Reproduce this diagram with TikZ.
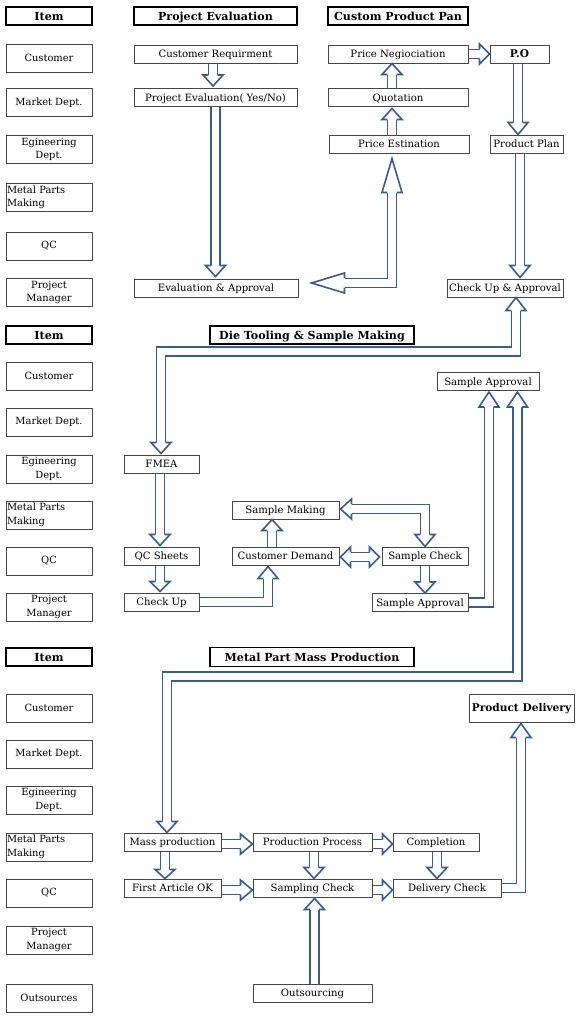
\documentclass[tikz,border=0pt]{standalone}
\usepackage{fontspec}
\setmainfont{DejaVu Serif}
\usetikzlibrary{calc}

\definecolor{arrowblue}{RGB}{56,93,138}
\definecolor{boxgray}{RGB}{70,70,70}

\newcommand{\shaftw}{4.6}
\newcommand{\headw}{10}
% block arrow head, tip at #2, pointing at angle #3
\newcommand{\bhead}[3][11]{%
  \filldraw[headfill, shift={#2}, rotate=#3] (-#1,-\shaftw) -- (-#1,-\headw) -- (0,0) -- (-#1,\headw) -- (-#1,\shaftw);}

\tikzset{
  pipe/.style={draw=arrowblue, line width=1.6pt, double=white, double distance=7.6pt},
  headfill/.style={draw=arrowblue, fill=white, line width=1.6pt},
  item/.style={draw=boxgray, line width=1pt, minimum width=86pt, minimum height=28pt, inner sep=0pt, align=center, font=\fontsize{9.9}{13.5}\selectfont},
  itemleft/.style={item, text width=84pt, align=left},
  hdr/.style={draw=black, line width=1.8pt, minimum height=18pt, inner sep=0pt, text height=8pt, text depth=0pt, font=\fontsize{11.1}{12}\selectfont\bfseries},
  proc/.style={draw=boxgray, line width=1pt, minimum height=18pt, inner sep=0pt, text height=7.3pt, text depth=0pt, font=\fontsize{10.1}{12}\selectfont}
}

\begin{document}
\begin{tikzpicture}[x=1pt, y=-1pt]
\useasboundingbox (0,0) rectangle (576,1018);

% Item column, first part
\node[hdr, minimum width=86pt] (item1) at (49,16) {Item};
\node[item] (cust1) at (49,58) {Customer};
\node[item] (mkt1) at (49,102.5) {Market Dept.};
\node[item] (eng1) at (49,149.5) {Egineering\\Dept.};
\node[itemleft] (metal1) at (49,197.5) {Metal Parts\\Making};
\node[item] (qc1) at (49,246) {QC};
\node[item] (pm1) at (49,292.5) {Project\\Manager};

% Item column, second part
\node[hdr, minimum width=86pt] (item2) at (49,335) {Item};
\node[item] (cust2) at (49,376) {Customer};
\node[item] (mkt2) at (49,422) {Market Dept.};
\node[item] (eng2) at (49,469) {Egineering\\Dept.};
\node[itemleft] (metal2) at (49,515) {Metal Parts\\Making};
\node[item] (qc2) at (49,561) {QC};
\node[item] (pm2) at (49,607) {Project\\Manager};

% Item column, third part
\node[hdr, minimum width=86pt] (item3) at (49,657) {Item};
\node[item] (cust3) at (49,708) {Customer};
\node[item] (mkt3) at (49,754) {Market Dept.};
\node[item] (eng3) at (49,800) {Egineering\\Dept.};
\node[itemleft] (metal3) at (49,847) {Metal Parts\\Making};
\node[item] (qc3) at (49,893) {QC};
\node[item] (pm3) at (49,940) {Project\\Manager};
\node[item] (out3) at (49,998) {Outsources};

% Project evaluation and product plan
\node[hdr, minimum width=163pt] (evalhdr) at (215.5,16) {Project Evaluation};
\node[hdr, minimum width=140pt] (planhdr) at (398,16) {Custom Product Pan};
\node[proc, minimum width=163pt] (custreq) at (215.5,54) {Customer Requirment};
\node[proc, minimum width=163pt] (projeval) at (215.5,97.5) {Project Evaluation( Yes/No)};
\node[proc, minimum width=164pt] (evalapp) at (216,288) {Evaluation \& Approval};
\node[proc, minimum width=140pt] (priceneg) at (398,54) {Price Negiociation};
\node[proc, minimum width=59pt, font=\fontsize{10.6}{12}\selectfont\bfseries] (po) at (519.5,54) {P.O};
\node[proc, minimum width=140pt] (quot) at (398,97.5) {Quotation};
\node[proc, minimum width=140pt] (priceest) at (399,144) {Price Estination};
\node[proc, minimum width=73pt] (plan) at (526.5,144) {Product Plan};
\node[proc, minimum width=116pt] (checkapp) at (505,288) {Check Up \& Approval};

% Die tooling and sample making
\node[hdr, minimum width=204pt] (toolhdr) at (312,335) {Die Tooling \& Sample Making};
\node[proc, minimum width=75pt] (fmea) at (161.5,464) {FMEA};
\node[proc, minimum width=75pt] (qcsheet) at (161.5,556) {QC Sheets};
\node[proc, minimum width=75pt] (checkup) at (161.5,602) {Check Up};
\node[proc, minimum width=107pt] (sampmake) at (285.5,510) {Sample Making};
\node[proc, minimum width=107pt] (custdem) at (285.5,556) {Customer Demand};
\node[proc, minimum width=86pt] (sampcheck) at (425,556) {Sample Check};
\node[proc, minimum width=96pt] (sampappb) at (420,602.5) {Sample Approval};
\node[proc, minimum width=102pt] (sampappt) at (488,381.5) {Sample Approval};

% Mass production
\node[hdr, minimum width=204pt, minimum height=19pt] (masshdr) at (312,657) {Metal Part Mass Production};
\node[proc, minimum width=97pt] (massprod) at (172.5,842) {Mass production};
\node[proc, minimum width=119pt] (prodproc) at (312.5,842) {Production Process};
\node[proc, minimum width=86pt] (compl) at (436,842) {Completion};
\node[proc, minimum width=97pt] (firstart) at (172.5,888) {First Article OK};
\node[proc, minimum width=119pt] (sampling) at (312.5,888) {Sampling Check};
\node[proc, minimum width=108pt] (delcheck) at (447,888) {Delivery Check};
\node[proc, minimum width=119pt] (outsrc) at (312.5,993) {Outsourcing};
\node[proc, minimum width=105pt, minimum height=28pt, font=\fontsize{10.6}{12}\selectfont\bfseries] (delivery) at (521.5,708) {Product Delivery};

% Arrows, first part
\draw[pipe, shorten >=11pt] ($(custreq.south)+(-2.5,0)$) -- ($(projeval.north)+(-2.5,-2)$);
\bhead{($(projeval.north)+(-2.5,-2)$)}{-90}
\draw[pipe, shorten >=11pt] (projeval.south) -- ($(evalapp.north)+(-0.5,-2)$);
\bhead{($(evalapp.north)+(-0.5,-2)$)}{-90}
\draw[pipe, shorten <=33pt, shorten >=34pt] ($(evalapp.east)+(13,-5)$) -| ($(priceest.south)+(-7,5)$);
\bhead[33]{($(evalapp.east)+(13,-5)$)}{180}
\bhead[34]{($(priceest.south)+(-7,5)$)}{90}
\draw[pipe, shorten >=11pt] ($(priceest.north)+(-7,0)$) -- ($(quot.south)+(-6,1.5)$);
\bhead{($(quot.south)+(-6,1.5)$)}{90}
\draw[pipe, shorten >=11pt] ($(quot.north)+(-6,0)$) -- ($(priceneg.south)+(-6,0)$);
\bhead{($(priceneg.south)+(-6,0)$)}{90}
\draw[pipe, shorten >=10pt] (priceneg.east) -- (po.west);
\bhead[10]{(po.west)}{0}
\draw[pipe, shorten >=12pt] ($(po.south)+(-1.5,0)$) -- ($(plan.north)+(-8.5,0)$);
\bhead[12]{($(plan.north)+(-8.5,0)$)}{-90}
\draw[pipe, shorten >=12pt] ($(plan.south)+(-6.5,0)$) -- ($(checkapp.north)+(15,-1)$);
\bhead[12]{($(checkapp.north)+(15,-1)$)}{-90}
\draw[pipe, shorten <=13pt, shorten >=11pt] ($(checkapp.south)+(11,0)$) |- ($(fmea.north)+(-0.5,-103)$) -- ($(fmea.north)+(-0.5,-1)$);
\bhead[13]{($(checkapp.south)+(11,0)$)}{90}
\bhead{($(fmea.north)+(-0.5,-1)$)}{-90}

% Arrows, second part
\draw[pipe, shorten >=11pt] ($(fmea.south)+(-1.5,0)$) -- ($(qcsheet.north)+(-1.5,-1)$);
\bhead{($(qcsheet.north)+(-1.5,-1)$)}{-90}
\draw[pipe, shorten >=10pt] ($(qcsheet.south)+(-1.5,0)$) -- ($(checkup.north)+(-1.5,-1)$);
\bhead[10]{($(checkup.north)+(-1.5,-1)$)}{-90}
\draw[pipe, shorten >=12pt] (checkup.east) -| ($(custdem.south)+(-17.5,1)$);
\bhead[12]{($(custdem.south)+(-17.5,1)$)}{90}
\draw[pipe, shorten >=11pt] ($(custdem.north)+(-13.5,0)$) -- ($(sampmake.south)+(-13.5,0)$);
\bhead{($(sampmake.south)+(-13.5,0)$)}{90}
\draw[pipe, shorten <=11pt, shorten >=12pt] ($(sampmake.east)+(1,-1)$) -| (sampcheck.north);
\bhead{($(sampmake.east)+(1,-1)$)}{180}
\bhead[12]{(sampcheck.north)}{-90}
\draw[pipe, shorten <=10pt, shorten >=10pt] ($(custdem.east)+(1,1)$) -- ($(sampcheck.west)+(-2,1)$);
\bhead[10]{($(custdem.east)+(1,1)$)}{180}
\bhead[10]{($(sampcheck.west)+(-2,1)$)}{0}
\draw[pipe, shorten >=11pt] (sampcheck.south) -- ($(sampappb.north)+(5,0)$);
\bhead{($(sampappb.north)+(5,0)$)}{-90}
\draw[pipe, shorten >=15pt] (sampappb.east) -| ($(sampappt.south)+(1,1)$);
\bhead[15]{($(sampappt.south)+(1,1)$)}{90}
\draw[pipe, shorten <=15pt, shorten >=11pt] ($(sampappt.south)+(29.5,1)$) |- ($(massprod.north)+(-5.5,-156)$) -- ($(massprod.north)+(-5.5,0)$);
\bhead[15]{($(sampappt.south)+(29.5,1)$)}{90}
\bhead{($(massprod.north)+(-5.5,0)$)}{-90}

% Arrows, third part
\draw[pipe, shorten >=9pt] ($(massprod.south)+(-7.5,0)$) -- ($(firstart.north)+(-7.5,0)$);
\bhead[9]{($(firstart.north)+(-7.5,0)$)}{-90}
\draw[pipe, shorten >=12pt] ($(massprod.east)+(0,2)$) -- ($(prodproc.west)+(0,2)$);
\bhead[12]{($(prodproc.west)+(0,2)$)}{0}
\draw[pipe, shorten >=10pt] ($(prodproc.east)+(0,2)$) -- ($(compl.west)+(0,2)$);
\bhead[10]{($(compl.west)+(0,2)$)}{0}
\draw[pipe, shorten >=12pt] ($(firstart.east)+(0,2)$) -- ($(sampling.west)+(0,2)$);
\bhead[12]{($(sampling.west)+(0,2)$)}{0}
\draw[pipe, shorten >=10pt] ($(sampling.east)+(0,2)$) -- ($(delcheck.west)+(0,2)$);
\bhead[10]{($(delcheck.west)+(0,2)$)}{0}
\draw[pipe, shorten >=11pt] ($(prodproc.south)+(1.5,0)$) -- ($(sampling.north)+(1.5,0)$);
\bhead{($(sampling.north)+(1.5,0)$)}{-90}
\draw[pipe, shorten >=11pt] ($(compl.south)+(1,0)$) -- ($(delcheck.north)+(-10,0)$);
\bhead{($(delcheck.north)+(-10,0)$)}{-90}
\draw[pipe, shorten >=11pt] ($(outsrc.north)+(2,0)$) -- ($(sampling.south)+(2,1)$);
\bhead{($(sampling.south)+(2,1)$)}{90}
\draw[pipe, shorten >=14pt] (delcheck.east) -| ($(delivery.south)+(-0.5,1)$);
\bhead[14]{($(delivery.south)+(-0.5,1)$)}{90}
\end{tikzpicture}
\end{document}
